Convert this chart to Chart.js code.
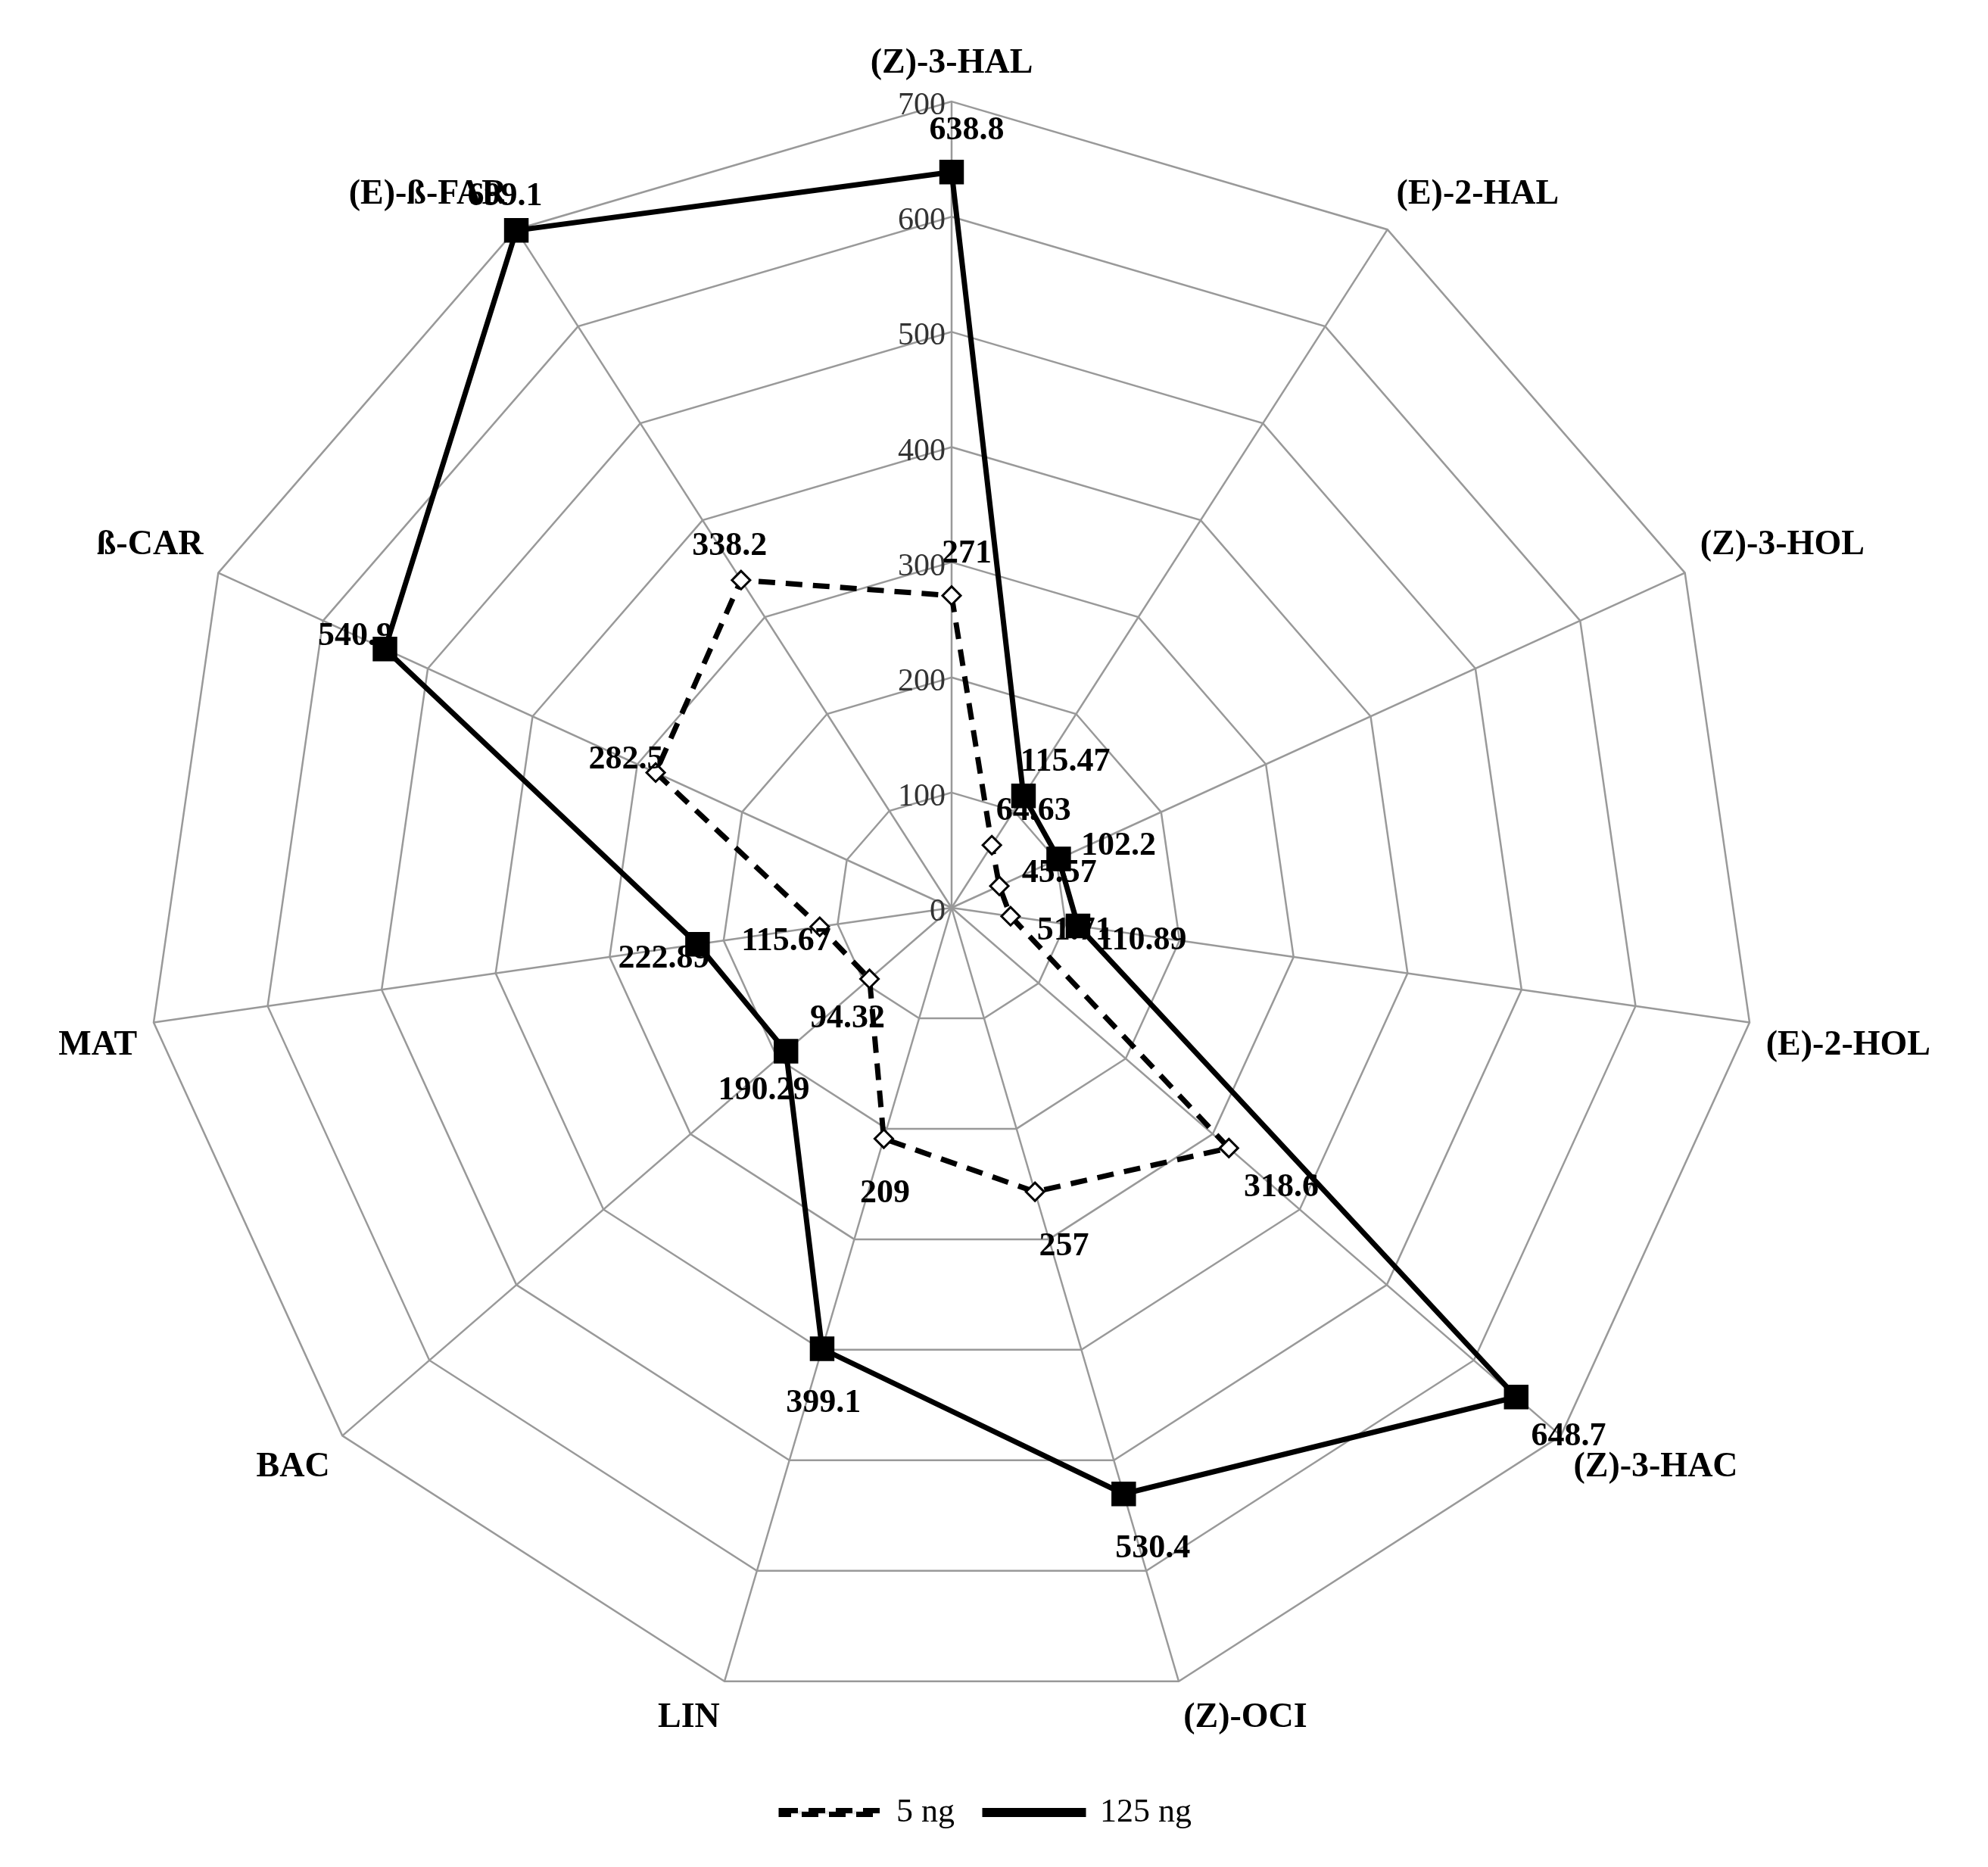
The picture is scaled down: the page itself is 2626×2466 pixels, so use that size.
<!DOCTYPE html>
<html><head><meta charset="utf-8">
<script src="https://cdn.jsdelivr.net/npm/chart.js@4"></script>
<style>html,body{margin:0;padding:0;background:#fff}#wrap{width:2626px;height:2466px}</style>
</head><body><div id="wrap"><canvas id="c"></canvas></div>
<script>
const categories = ["(Z)-3-HAL","(E)-2-HAL","(Z)-3-HOL","(E)-2-HOL","(Z)-3-HAC","(Z)-OCI","LIN","BAC","MAT","ß-CAR","(E)-ß-FAR"];
const series5ng = [271,64.63,45.57,51.71,318.6,257,209,94.32,115.67,282.5,338.2];
const series125ng = [638.8,115.47,102.2,110.89,648.7,530.4,399.1,190.29,222.89,540.9,699.1];
const tickValues = [0,100,200,300,400,500,600,700];
const serif = "'Liberation Serif','DejaVu Serif',serif";

const labelsPlugin = {
  id:'vals',
  afterDatasetsDraw(chart){
    const ctx = chart.ctx, r = chart.scales.r;
    ctx.save();
    ctx.font = "bold 44px " + serif;
    ctx.fillStyle = "#000";
    ctx.textAlign = "center"; ctx.textBaseline = "middle";
    chart.data.datasets.forEach((ds, di) => {
      ds.data.forEach((v, i) => {
        const p = r.getPointPositionForValue(i, v);
        const ang = r.getIndexAngle(i) - Math.PI/2;
        const off = 65;
        ctx.fillText(String(v), p.x + Math.cos(ang)*off + 20, p.y + Math.sin(ang)*off + 10);
      });
    });
    ctx.font = "42px " + serif;
    ctx.fillStyle = "#333";
    ctx.textAlign = "right"; ctx.textBaseline = "middle";
    tickValues.forEach(t => {
      const p = r.getPointPositionForValue(0, t);
      ctx.fillText(String(t), p.x - 8, p.y + 6);
    });
    ctx.restore();
  }
};

new Chart(document.getElementById('c'), {
  type:'radar',
  data:{
    labels: categories,
    datasets:[
      {label:'5 ng', data: series5ng, borderColor:'#000', borderWidth:7, borderDash:[22,14], fill:false,
       pointStyle:'rectRot', pointRadius:12, pointBackgroundColor:'#fff', pointBorderColor:'#000', pointBorderWidth:3},
      {label:'125 ng', data: series125ng, borderColor:'#000', borderWidth:7, fill:false,
       pointStyle:'rect', pointRadius:18, pointBackgroundColor:'#000', pointBorderColor:'#000'}
    ]
  },
  options:{
    responsive:true, maintainAspectRatio:false, animation:false,
    layout:{padding:{top:20,bottom:40,left:10,right:30}},
    scales:{r:{
      min:0,max:700,
      ticks:{stepSize:100, display:false},
      grid:{color:'#999', lineWidth:2.5},
      angleLines:{color:'#999', lineWidth:2.5},
      pointLabels:{color:'#000', font:{family:serif, size:46, weight:'bold'}, padding:22}
    }},
    plugins:{
      legend:{position:'bottom', labels:{color:'#000', font:{family:serif, size:44}, boxWidth:130, boxHeight:5, padding:40}},
      tooltip:{enabled:false}
    }
  },
  plugins:[labelsPlugin]
});
</script></body></html>
